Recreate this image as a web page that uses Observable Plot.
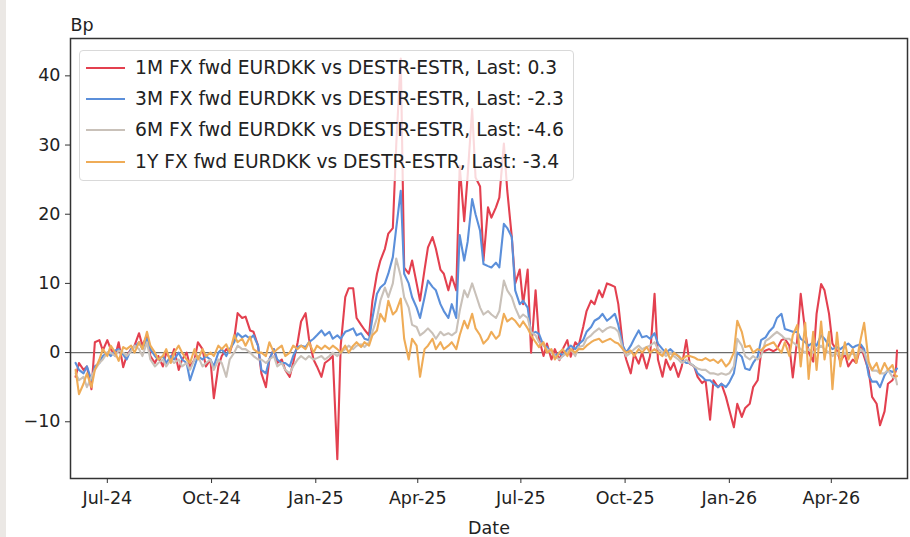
<!DOCTYPE html>
<html>
<head>
<meta charset="utf-8">
<script src="https://cdn.jsdelivr.net/npm/d3@7"></script>
<script src="https://cdn.jsdelivr.net/npm/@observablehq/plot@0.6"></script>
<style>
  html, body { margin: 0; padding: 0; background: #fff; }
  #wrap { position: relative; width: 910px; height: 537px; overflow: hidden; font-family: "DejaVu Sans", sans-serif; }
  #strip { position: absolute; left: 0; top: 0; width: 6px; height: 537px; background: #ebe8e5; }
  #legend { position: absolute; left: 79px; top: 50px; width: 495px; height: 131px;
            background: rgba(255,255,255,0.8); border: 1px solid #d9d9d9; border-radius: 4px; box-sizing: border-box; }
  .row { position: absolute; left: 0; height: 24px; display: flex; align-items: center; }
  .sw { position: absolute; left: 6px; width: 39px; height: 2px; }
  .lt { position: absolute; left: 55px; white-space: nowrap; font-size: 18.7px; color: #222; line-height: 24px; }
</style>
</head>
<body>
<div id="wrap"><div id="strip"></div></div>
<script>
// ---- data ----
const dates = [
"2024-06-03","2024-06-06","2024-06-10","2024-06-13","2024-06-17","2024-06-20","2024-06-24","2024-06-27",
"2024-07-01","2024-07-04","2024-07-08","2024-07-11","2024-07-15","2024-07-18","2024-07-22","2024-07-25","2024-07-29",
"2024-08-01","2024-08-05","2024-08-08","2024-08-12","2024-08-15","2024-08-19","2024-08-22","2024-08-26","2024-08-29",
"2024-09-02","2024-09-05","2024-09-09","2024-09-12","2024-09-16","2024-09-19","2024-09-23","2024-09-26","2024-09-30",
"2024-10-03","2024-10-07","2024-10-10","2024-10-14","2024-10-17","2024-10-21","2024-10-24","2024-10-28","2024-10-31",
"2024-11-04","2024-11-07","2024-11-11","2024-11-14","2024-11-18","2024-11-21","2024-11-25","2024-11-28",
"2024-12-02","2024-12-05","2024-12-09","2024-12-12","2024-12-16","2024-12-19","2024-12-23","2024-12-26","2024-12-30",
"2025-01-02","2025-01-06","2025-01-09","2025-01-13","2025-01-16","2025-01-20","2025-01-23","2025-01-27","2025-01-30",
"2025-02-03","2025-02-06","2025-02-10","2025-02-13","2025-02-17","2025-02-20","2025-02-24","2025-02-27",
"2025-03-03","2025-03-06","2025-03-10","2025-03-13","2025-03-17","2025-03-20","2025-03-24","2025-03-27","2025-03-31",
"2025-04-03","2025-04-07","2025-04-10","2025-04-14","2025-04-17","2025-04-21","2025-04-24","2025-04-28",
"2025-05-01","2025-05-05","2025-05-08","2025-05-12","2025-05-15","2025-05-19","2025-05-22","2025-05-26","2025-05-29",
"2025-06-02","2025-06-05","2025-06-09","2025-06-12","2025-06-16","2025-06-19","2025-06-23","2025-06-26","2025-06-30",
"2025-07-03","2025-07-07","2025-07-10","2025-07-14","2025-07-17","2025-07-21","2025-07-24","2025-07-28","2025-07-31",
"2025-08-04","2025-08-07","2025-08-11","2025-08-14","2025-08-18","2025-08-21","2025-08-25","2025-08-28",
"2025-09-01","2025-09-04","2025-09-08","2025-09-11","2025-09-15","2025-09-18","2025-09-22","2025-09-25","2025-09-29",
"2025-10-02","2025-10-06","2025-10-09","2025-10-13","2025-10-16","2025-10-20","2025-10-23","2025-10-27","2025-10-30",
"2025-11-03","2025-11-06","2025-11-10","2025-11-13","2025-11-17","2025-11-20","2025-11-24","2025-11-27",
"2025-12-01","2025-12-04","2025-12-08","2025-12-11","2025-12-15","2025-12-18","2025-12-22","2025-12-25","2025-12-29",
"2026-01-01","2026-01-05","2026-01-08","2026-01-12","2026-01-15","2026-01-19","2026-01-22","2026-01-26","2026-01-29",
"2026-02-02","2026-02-05","2026-02-09","2026-02-12","2026-02-16","2026-02-19","2026-02-23","2026-02-26",
"2026-03-02","2026-03-05","2026-03-09","2026-03-12","2026-03-16","2026-03-19","2026-03-23","2026-03-26","2026-03-30",
"2026-04-02","2026-04-06","2026-04-09","2026-04-13","2026-04-16","2026-04-20","2026-04-23","2026-04-27","2026-04-30",
"2026-05-04","2026-05-07","2026-05-11","2026-05-14","2026-05-18","2026-05-21","2026-05-25","2026-05-28","2026-05-29"
];

const fwd1M = [
-3.5,-1.5,-2.5,-2,-5.3,1.5,1.8,0.3,
1.8,0.5,-0.5,1.5,-2.1,-0.5,0.5,1,2.8,
1,2.5,-0.5,-1.5,-0.5,-2,0,-1,0.5,
-2.5,-1,0,-2,-1,1.5,0.5,-2,-1,
-6.6,-2,-0.5,0.5,0,2,5.7,5,5.2,
3.2,3,1,-3,-5,-1,0.5,-1.5,
-1,-2.5,-3.5,-1.5,1.5,4.5,5.7,2,-1,
-2,-3.5,-1.5,-1,-0.5,-15.4,1,8,9.3,
9.3,5,4,3.3,2.5,7.5,11.4,13.3,
15,17.2,18,30,42.5,12.3,11.4,13.3,10,
7.5,12,15.2,16.7,15,12,11.4,9,
11,9,27,19,25.5,35.2,25.3,24,13.3,
21,19.5,21,22.4,30.2,23.4,16.7,10,12,
7,12,0,9,2,-0.5,1.3,-1,0.5,
-1.1,0.5,1.8,-0.6,1.5,1,3.7,6,
7.5,7,9,8,10,9.8,9.5,7,1,
-1,-3,-0.2,-1.6,0,-2.3,-0.5,8.5,-1,
-3.5,-1,-2.5,-1.5,-3.5,-2,1.8,-1.6,
-2,-3.5,-4.4,-4,-9.7,-4,-5,-4.5,-6.4,
-8.3,-10.8,-7.4,-9.3,-8,-7.4,-5,-4,0,
0.3,0.5,0.2,0.5,1.8,2,1,-3.6,
2,8.5,3,0,-1.3,5.6,9.9,9,5.6,
1.3,0.3,-1.3,-0.2,-2,-1,-1.5,1,-0.6,
-2.6,-6.4,-7.4,-10.5,-8.5,-4.5,-4,-2.6,0.3
];

const fwd3M = [
-1.5,-2.5,-3,-2,-4,-2,-1.5,-0.5,
0,-0.5,0.3,0.5,-0.3,-1,0.5,0.8,1.5,
0.5,2,0.5,-0.5,-1,-0.5,-1.5,-0.5,-1,
0,-1,-1.5,-4,-2,-0.5,-1,-0.5,-1,
-2,0,0.5,-0.5,0.5,1.5,2.8,2.2,2.5,
2,2.5,1,-2.5,-3,-1,0.5,-1,
-1.5,-1.5,-2,-0.5,0.8,1,0.8,1.5,2,
2.5,3.2,2.5,3,2,2.5,2,3,3.2,
3.5,2.5,2.8,2,1.8,5,8.5,9.4,
10,11.4,13.8,18,23.4,11.4,10,8,6.5,
5,8,10.4,9.5,9,7,6,5,
7,5,17,13.3,16,22.2,20,17.6,12.8,
12.5,12.3,13,12.3,18.6,18,16.7,9,7,
7.5,6.5,2.7,3,2.7,1,0.8,0,-0.5,
0,-0.5,0.5,1,0.5,1.2,1.8,3,
3.7,4.6,5,5.6,4.6,5,5.6,4,1,
0,1,2,3.2,2.2,2.4,2,2.8,1.3,
0.5,0,0.5,0,-0.5,-1,-1.5,-1.5,
-2,-3,-3.5,-4,-4,-4.5,-5,-4.5,-5,
-4.3,-3,0,-0.6,-2.3,-2.5,-1.5,-0.6,1.8,
2.2,3,3.7,5,5.6,3.4,3.2,3,
3,2,1.5,1,1.5,1,2.5,2,1,
0.5,0.8,0.5,1,1.3,0.7,1,1.2,0.5,
-3.3,-4.2,-4.2,-5,-3.3,-2.5,-2.8,-2.5,-2.3
];

const fwd6M = [
-3,-4,-3.5,-5,-3.5,-2.5,-1.5,-1,
0,0,-0.5,0.3,0,-0.5,0.2,1,0.5,
-0.5,1.5,-1,-2,-1.5,-1,-2,-1,-1.5,
-1,-2,-1.5,-2.5,-1,-0.5,-2,-1.5,-1,
-2.5,-1,-1.5,-3.5,-1,0,1,0.5,0.5,
0,-0.5,-1,-1,-1.5,-1,-0.5,-2,
-1.5,-2.5,-3,-2,-1,-0.5,-1,-0.5,-1,
-0.8,-0.5,-1,-0.5,0,-0.5,0,0.5,1,
0.5,1,1.2,0.8,1.5,3,5,7.5,
9.4,8,10,13.6,11,8,6.5,4,3.7,
2.5,3,3.5,2.8,2,3,2.5,2.8,
2.5,3,6,9,8,10,8.5,6.5,5.5,
6,5.5,5,6,10.4,9,8,6.5,5,
5.5,5,3,2.5,1.5,1,0.5,0,-0.5,
-1,-0.5,0,0.5,-0.5,0.8,1,2,
2.5,3,3.5,3,3.5,3.7,3.5,3,0.5,
-0.5,0,0.5,1,0.5,0.8,1,1.5,0.5,
0,-0.5,0,-0.5,-1,-1.5,-1,-1.5,
-2,-2.3,-2.5,-2.5,-3,-3,-3.2,-3,-3.2,
-3,-2,2,1,-0.5,-1,-0.5,-1,-0.5,
1.7,2,2.6,3,2.5,2,2,1.5,
1,0.5,0,0.5,0,0.5,1,0.5,0,
-0.5,0,-0.5,0,-0.5,0,-0.5,0.5,0,
-1.7,-2.6,-2.6,-3,-3,-2.5,-3.5,-3.8,-4.6
];

const fwd1Y = [
-2.5,-6,-4.5,-3,-5,-2.5,-1,0.5,
-0.5,1,0,-1.2,0.8,0.5,1,0,1.5,
0.5,3,1,0,-1,-0.5,0.5,-1.5,0,
1,0,-1,-1.5,0.5,-1,0.5,-0.5,0,
-0.5,1,0.5,1.2,0,2.5,1.5,2,1,
2.3,0.5,0,0,-0.5,1.5,0,0.5,
1,-0.5,0,1,0.5,1,0.5,1.5,0,
1,0.5,1,0.5,1,0.5,0,1,0,
1,1.5,0.8,1.5,1,2.5,3.2,5.6,
4.5,7.5,5.5,6,7.8,2,-1,2,1,
-3.5,0.5,1,2,0.5,1.5,0.5,1,
1.5,0.5,2.5,4.6,3.5,5.6,3.5,2.5,1.3,
2,3,2,2.5,5.6,4.5,5,4.6,3.7,
4.5,3.5,2.5,1.5,0.8,1.5,0,0.5,-1,
0,0.5,-0.5,0.5,0,0.5,0.5,1,
1.5,1.8,2,1.5,1.8,2,1.5,1.3,0.5,
0,0.3,-0.5,0.5,0,0.8,0,0.5,0,
-0.5,0.5,-1,0,-0.5,-1,-0.5,-0.5,
-0.7,-1,-1.1,-0.8,-1.2,-1,-1.5,-1,-2,
-1.5,0,4.6,3,0.8,1,0,0.5,0.3,
1,1.2,1.5,0.8,0,1.5,-0.5,2.5,
4,-2,4.3,-3.8,3,-2.5,4.5,-1,3,
-5.3,2.9,-2,1.5,-1,0.5,-1.5,2,4.3,
-1.3,-2.5,-1.5,-3,-1.5,-2.5,-1.8,-3.5,-3.4
];

const seriesNames = [
  "1M FX fwd EURDKK vs DESTR-ESTR",
  "3M FX fwd EURDKK vs DESTR-ESTR",
  "6M FX fwd EURDKK vs DESTR-ESTR",
  "1Y FX fwd EURDKK vs DESTR-ESTR"
];
const lastValues = ["0.3", "-2.3", "-4.6", "-3.4"];
const seriesColors = ["#e3404f", "#5b8fda", "#c9c1b9", "#efac57"];
const xTickDates = ["2024-07-01","2024-10-01","2025-01-01","2025-04-01","2025-07-01","2025-10-01","2026-01-01","2026-04-01"];
const yTicks = [-10, 0, 10, 20, 30, 40];
const xDomain = ["2024-05-29T12:00:00Z", "2026-06-07T06:00:00Z"];
const yDomain = [-18.2, 45.4];

// ---- build ----
const parse = s => new Date(s.length > 10 ? s : s + "T00:00:00Z");
const allSeries = [fwd1M, fwd3M, fwd6M, fwd1Y];
const tables = allSeries.map(vals => vals.map((v, j) => ({date: parse(dates[j]), value: v})));

const chart = Plot.plot({
  width: 910,
  height: 537,
  marginLeft: 70,
  marginRight: 3,
  marginTop: 38,
  marginBottom: 59,
  style: {fontFamily: "DejaVu Sans", fontSize: "17.5px", color: "#222", background: "transparent", overflow: "visible"},
  x: {type: "utc", domain: xDomain.map(parse)},
  y: {domain: yDomain},
  marks: [
    Plot.ruleY([0], {stroke: "#6b6b6b", strokeWidth: 1.2}),
    ...tables.map((t, i) => Plot.lineY(t, {x: "date", y: "value", stroke: seriesColors[i], strokeWidth: 2.1, strokeLinejoin: "round"})),
    Plot.frame({stroke: "#333", strokeWidth: 1.5}),
    Plot.axisX({ticks: xTickDates.map(parse), tickFormat: d3.utcFormat("%b-%y"), tickSize: 5, tickPadding: 8, label: null, stroke: "#333"}),
    Plot.axisY({ticks: yTicks, tickSize: 5, tickPadding: 5, label: null, stroke: "#333"}),
    Plot.text(["Bp"], {frameAnchor: "top-left", textAnchor: "start", dy: -20, fill: "#222"}),
    Plot.text(["Date"], {frameAnchor: "bottom", dy: 55, fill: "#222"})
  ]
});
const wrap = document.getElementById("wrap");
chart.style.position = "absolute";
chart.style.left = "0px";
chart.style.top = "0px";
wrap.appendChild(chart);

// legend
const legend = document.createElement("div");
legend.id = "legend";
const rowY = [5, 36, 67, 99];
seriesNames.forEach((name, i) => {
  const row = document.createElement("div");
  row.className = "row";
  row.style.top = rowY[i] + "px";
  const sw = document.createElement("div");
  sw.className = "sw";
  sw.style.background = seriesColors[i];
  sw.style.top = "11px";
  const lt = document.createElement("div");
  lt.className = "lt";
  lt.textContent = `${name}, Last: ${lastValues[i]}`;
  row.appendChild(sw);
  row.appendChild(lt);
  legend.appendChild(row);
});
wrap.appendChild(legend);
</script>
</body>
</html>
